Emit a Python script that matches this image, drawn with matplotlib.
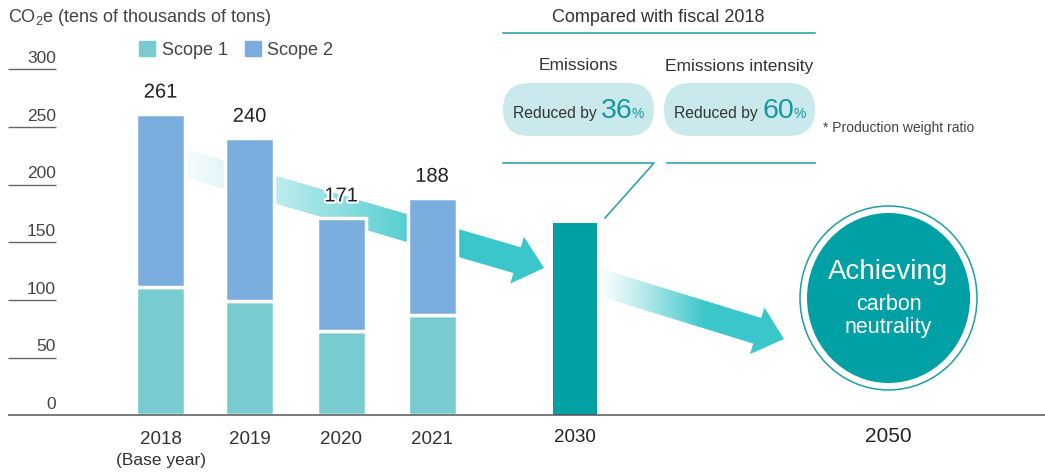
import numpy as np
import matplotlib
matplotlib.use("Agg")
import matplotlib.pyplot as plt
from matplotlib.patches import Polygon, FancyBboxPatch, Ellipse, Patch
import matplotlib.patheffects as pe

plt.rcParams['font.family'] = ['Liberation Sans', 'DejaVu Sans']

# ── data ───────────────────────────────────────────────
years   = ['2018', '2019', '2020', '2021']
base_note = '(Base year)'
scope1  = [111, 99, 73, 87]
scope2  = [150, 141, 98, 101]
totals  = [261, 240, 171, 188]
target_label = '2030'
target_val   = 167
goal_label   = '2050'
yticks  = [0, 50, 100, 150, 200, 250, 300]
reductions = [('Emissions', '36'), ('Emissions intensity', '60')]

# ── layout (pixels) ────────────────────────────────────
W, H = 1045, 472
Y0 = 415.3          # pixel row of value 0
PX = 1.154          # pixels per unit
bar_x  = [160.5, 249.5, 341, 432]
tgt_x  = 575
goal_x = 888.5
BAR_W  = 49

TXT   = '#333333'
S1    = '#78cccf'
S2    = '#7badde'
TEAL  = '#00a0a4'
ARROW = '#3ac6ca'
LINE  = '#1f9ea3'
PILL  = '#c9e9ec'

fig = plt.figure(figsize=(W / 100, H / 100), dpi=100)

# background axes in pixel coords (arrows)
ax_bg = fig.add_axes([0, 0, 1, 1], zorder=0)
ax_bg.axis('off')

# data axes (bars)
ax = fig.add_axes([0, 0, 1, 1], zorder=1)
ax.set_xlim(0, W)
ax.set_ylim((Y0 - H) / PX, Y0 / PX)
ax.axis('off')
ax.patch.set_alpha(0)

# top axes in pixel coords (annotations)
ax_top = fig.add_axes([0, 0, 1, 1], zorder=2)
ax_top.set_xlim(0, W); ax_top.set_ylim(H, 0); ax_top.axis('off')
ax_top.patch.set_alpha(0)


def grad_arrow(axx, start, tip, half_w, head_hw, head_len, x_full, a0):
    s = np.array(start, float); t = np.array(tip, float)
    d = (t - s) / np.linalg.norm(t - s)
    n = np.array([-d[1], d[0]])
    b = t - d * head_len
    pts = [s + n * half_w, b + n * half_w, b + n * head_hw, t,
           b - n * head_hw, b - n * half_w, s - n * half_w]
    poly = Polygon(pts, closed=True, facecolor='none', edgecolor='none')
    axx.add_patch(poly)
    xs = np.linspace(0, 1, 256)
    alpha = np.clip(a0 + (1 - a0) * xs, 0, 1) ** 1.2
    rgb = matplotlib.colors.to_rgb(ARROW)
    img = np.zeros((2, 256, 4))
    img[..., 0], img[..., 1], img[..., 2] = rgb
    img[..., 3] = alpha
    im = axx.imshow(img, extent=[s[0] - 2, x_full, H, 0], aspect='auto',
                    interpolation='bilinear', zorder=1)
    im.set_clip_path(poly)
    img2 = np.zeros((2, 2, 4))
    img2[..., 0], img2[..., 1], img2[..., 2] = rgb
    img2[..., 3] = 1
    im2 = axx.imshow(img2, extent=[x_full, t[0] + 2, H, 0], aspect='auto', zorder=1)
    im2.set_clip_path(poly)


grad_arrow(ax_bg, (184, 163), (544, 268), 13.4, 24.4, 28, 440, 0.06)
grad_arrow(ax_bg, (597, 281.5), (784, 339), 13.4, 24.4, 28, 705, 0.0)
ax_bg.set_xlim(0, W); ax_bg.set_ylim(H, 0)

# bars
ax.bar(bar_x, scope1, width=BAR_W, color=S1, edgecolor='white', linewidth=2.5, zorder=2)
ax.bar(bar_x, scope2, bottom=scope1, width=BAR_W, color=S2, edgecolor='white',
       linewidth=2.5, zorder=2)
ax.bar([tgt_x], [target_val], width=44.5, color=TEAL, linewidth=0, zorder=2)

for x, v in zip(bar_x, totals):
    ax.annotate(str(v), (x, v), xytext=(0, 9), textcoords='offset points',
                ha='center', va='bottom', fontsize=14.5, color='#222222', zorder=4,
                path_effects=[pe.withStroke(linewidth=3, foreground='white')])

# axis & ticks
ax.plot([8, W], [0, 0], color='#555555', lw=1.1, zorder=5, solid_capstyle='butt')
for v in yticks[1:]:
    ax.plot([8, 56], [v, v], color='#666666', lw=1.0, zorder=3, solid_capstyle='butt')
for v in yticks:
    ax.annotate(str(v), (56, v), xytext=(0, 4.5), textcoords='offset points',
                ha='right', va='baseline', fontsize=12.5, color='#444444')

ax_top.text(8, 17, 'CO$_\\mathregular{2}$e (tens of thousands of tons)', fontsize=13,
            color='#444444', ha='left', va='center')

ax.legend(handles=[Patch(color=S1, label='Scope 1'), Patch(color=S2, label='Scope 2')],
          loc='center left', bbox_to_anchor=(139 / W, 1 - 50 / H), bbox_transform=fig.transFigure,
          ncol=2, frameon=False, fontsize=13, borderpad=0, borderaxespad=0,
          handlelength=0.9, handleheight=0.9, handletextpad=0.35, columnspacing=0.95,
          labelcolor='#444444')

# x labels
for x, lab in zip(bar_x, years):
    ax_top.text(x, 439, lab, ha='center', va='center', fontsize=13.5, color=TXT)
ax_top.text(bar_x[0], 460, base_note, ha='center', va='center', fontsize=12.5, color=TXT)
ax_top.text(tgt_x, 438, target_label, ha='center', va='center', fontsize=13.5, color='#222222')
ax_top.text(goal_x, 437, goal_label, ha='center', va='center', fontsize=15, color='#222222')

# callout
ax_top.text(658, 18, 'Compared with fiscal 2018', ha='center', va='center', fontsize=13, color=TXT)
ax_top.plot([503, 815], [33, 33], color=LINE, lw=1.1)
pills = [(503, 654), (664, 815)]
for (x0, x1), (title, pct) in zip(pills, reductions):
    ax_top.text((x0 + x1) / 2, 66, title, ha='center', va='center', fontsize=12.5, color=TXT)
    ax_top.add_patch(FancyBboxPatch((x0, 83), x1 - x0, 53,
                                    boxstyle='round,pad=0,rounding_size=26.5',
                                    facecolor=PILL, edgecolor='none'))
    ax_top.text(x0 + 10, 118, 'Reduced by', ha='left', va='baseline', fontsize=11.3, color=TXT)
    ax_top.text(x0 + 98, 118.5, pct, ha='left', va='baseline', fontsize=20.5, color='#1497a0')
    ax_top.text(x0 + 129, 118, '%', ha='left', va='baseline', fontsize=10, color='#1497a0')
ax_top.plot([503, 654, 605], [163, 163, 218], color=LINE, lw=1.1)
ax_top.plot([667, 815], [163, 163], color=LINE, lw=1.1)
ax_top.text(823, 128, '* Production weight ratio', ha='left', va='center', fontsize=10,
            color='#444444')

# goal circle
ax_top.add_patch(Ellipse((goal_x, 298), 177, 184, facecolor='none', edgecolor=LINE, lw=1.1))
ax_top.add_patch(Ellipse((goal_x, 298), 163, 170, facecolor=TEAL, edgecolor='none'))
ax_top.text(goal_x, 272, 'Achieving', ha='center', va='center', fontsize=20, color='white')
ax_top.text(goal_x, 304, 'carbon', ha='center', va='center', fontsize=15.5, color='white')
ax_top.text(goal_x, 328, 'neutrality', ha='center', va='center', fontsize=15.5, color='white')

fig.savefig('out.png', dpi=100)
